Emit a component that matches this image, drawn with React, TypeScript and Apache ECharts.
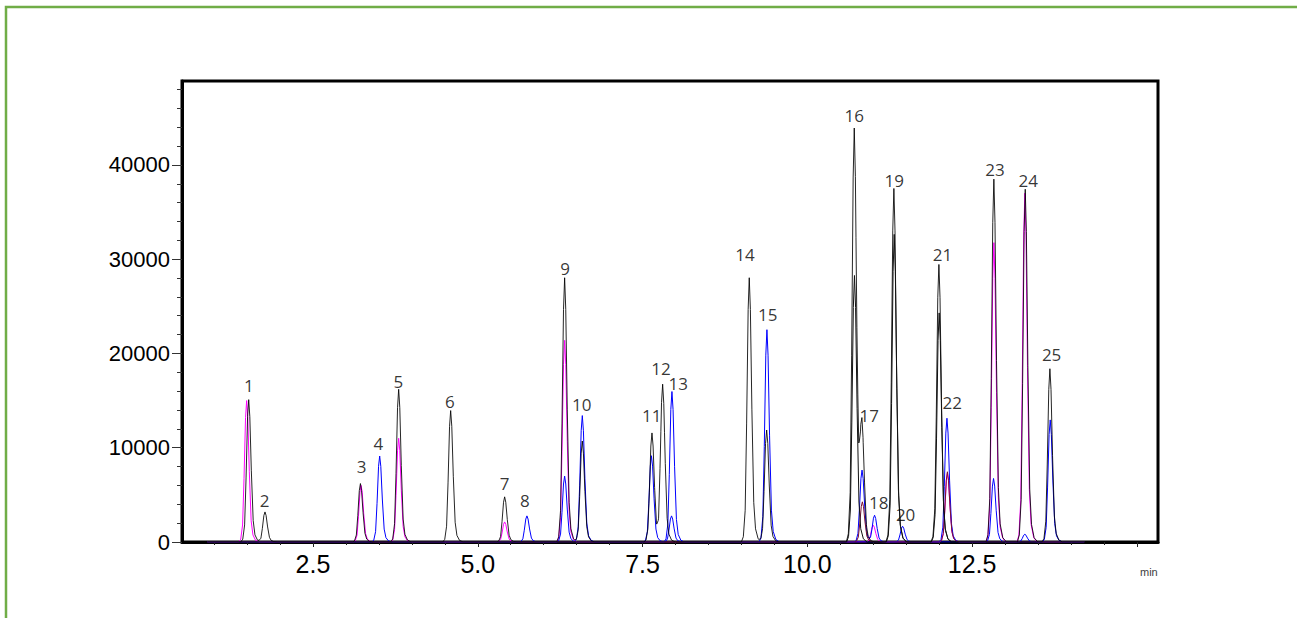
import React, { useEffect, useRef } from "react";
import * as echarts from "echarts";

// axis extents (minutes / counts)
const X_MIN = 0.513;
const X_MAX = 15.32;
const Y_MAX = 48900;
const TRACE_START = 0.9;
const TRACE_END = 14.2;

const xLabelValues = [2.5, 5, 7.5, 10, 12.5];
const xMajorTicks = [2.5, 5, 7.5, 10, 12.5, 15];
const xMinorTicks = [1, 1.5, 2, 3, 3.5, 4, 4.5, 5.5, 6, 6.5, 7, 8, 8.5, 9, 9.5, 10.5, 11, 11.5, 12, 13, 13.5, 14, 14.5];
const yLabelValues = [0, 10000, 20000, 30000, 40000];
const yMinorTicks = [2000, 4000, 6000, 8000, 12000, 14000, 16000, 18000, 22000, 24000, 26000, 28000, 32000, 34000, 36000, 38000, 42000, 44000, 46000, 48000];

// peaks per trace: [retention time (min), height]
const blackPeaks: [number, number][] = [
  [1.525, 15100], [1.772, 3190], [3.22, 6200], [3.8, 16200], [4.589, 13940],
  [5.408, 4790], [6.318, 28030], [6.586, 10710], [7.643, 11570], [7.805, 16670],
  [9.119, 28030], [9.383, 11880], [10.712, 43880], [10.828, 11880], [11.313, 37500],
  [11.996, 29440], [12.83, 38490], [13.306, 37420], [13.68, 18380],
];
const darkPeaks: [number, number][] = [
  [10.715, 28270], [11.318, 32630], [12.0, 24300],
];
const magentaPeaks: [number, number][] = [
  [1.494, 15000], [3.23, 6000], [3.8, 11000], [5.408, 2130], [6.318, 21390],
  [11.0, 1780], [12.125, 7300], [12.83, 31750], [13.3, 37000],
];
const bluePeaks: [number, number][] = [
  [3.512, 9120], [5.746, 2770], [6.318, 6990], [6.586, 13410], [7.635, 9150],
  [7.946, 15960], [9.387, 22520], [10.83, 7630], [11.02, 2840], [11.445, 1670],
  [12.118, 13130], [12.825, 6740], [13.685, 12950],
];
const blue2Peaks: [number, number][] = [
  [7.94, 2770], [13.3, 820],
];
const darkRedPeaks: [number, number][] = [
  [10.835, 4260], [12.125, 7450],
];

// peak labels
const labelNames = ["1", "2", "3", "4", "5", "6", "7", "8", "9", "10", "11", "12", "13", "14", "15", "16", "17", "18", "19", "20", "21", "22", "23", "24", "25"];
const labelTimes = [1.529, 1.767, 3.239, 3.491, 3.794, 4.578, 5.408, 5.716, 6.327, 6.576, 7.638, 7.779, 8.042, 9.053, 9.398, 10.711, 10.939, 11.082, 11.318, 11.491, 12.052, 12.198, 12.846, 13.351, 13.706];
const labelValues = [16570, 4437, 7980, 10470, 17020, 14900, 6210, 4437, 28980, 14545, 13375, 18450, 16780, 30505, 24120, 45220, 13375, 4192, 38380, 2915, 30505, 14830, 39550, 38300, 19865];

// peak shape template (offset in min, fraction of height)
const peakProfile: [number, number][] = [
  [-0.12, 0], [-0.09, 0.02], [-0.062, 0.12], [-0.04, 0.45], [-0.017, 0.88], [0, 1],
  [0.017, 0.88], [0.04, 0.5], [0.068, 0.15], [0.095, 0.05], [0.135, 0.012], [0.19, 0],
];

function profileAt(dt: number): number {
  if (dt <= peakProfile[0][0] || dt >= peakProfile[peakProfile.length - 1][0]) return 0;
  for (let i = 1; i < peakProfile.length; i++) {
    const [x1, y1] = peakProfile[i];
    const [x0, y0] = peakProfile[i - 1];
    if (dt <= x1) return y0 + ((y1 - y0) * (dt - x0)) / (x1 - x0);
  }
  return 0;
}

function buildTrace(peaks: [number, number][]): [number, number][] {
  const times: number[] = [TRACE_START, TRACE_END];
  peaks.forEach(([rt]) => peakProfile.forEach(([dt]) => times.push(+(rt + dt).toFixed(4))));
  const uniq = Array.from(new Set(times)).sort((a, b) => a - b);
  return uniq.map((t) => {
    let v = 0;
    peaks.forEach(([rt, h]) => { v += h * profileAt(t - rt); });
    return [t, v];
  });
}

export default function App() {
  const ref = useRef<HTMLDivElement>(null);
  useEffect(() => {
    if (!ref.current) return;
    const chart = echarts.init(ref.current, undefined, { renderer: "svg" });
    const traceSeries = (name: string, peaks: [number, number][], color: string, opacity = 1) => ({
      name,
      type: "line",
      xAxisIndex: 0,
      yAxisIndex: 0,
      data: buildTrace(peaks),
      showSymbol: false,
      symbol: "none",
      silent: true,
      lineStyle: { color, width: 1, opacity },
      itemStyle: { color },
    });
    chart.setOption({
      animation: false,
      grid: {
        left: 182, right: 139, top: 81, bottom: 76,
        show: true, borderColor: "#000", borderWidth: 3, backgroundColor: "transparent",
      },
      xAxis: [
        {
          type: "value", min: X_MIN, max: X_MAX, position: "bottom",
          axisLine: { show: true, lineStyle: { color: "#000", width: 3 } },
          axisTick: { show: true, customValues: xMajorTicks, length: 5, lineStyle: { color: "#222", width: 1 } },
          axisLabel: {
            customValues: xLabelValues, color: "#000", fontSize: 25,
            fontFamily: "Liberation Sans, Arial, sans-serif", margin: 9,
            formatter: (v: number) => v.toFixed(1),
          },
          splitLine: { show: false },
        },
        {
          type: "value", min: X_MIN, max: X_MAX, position: "bottom",
          axisLine: { show: false },
          axisTick: { show: true, customValues: xMinorTicks, length: 3, lineStyle: { color: "#222", width: 1 } },
          axisLabel: { show: false },
          splitLine: { show: false },
        },
      ],
      yAxis: [
        {
          type: "value", min: 0, max: Y_MAX, position: "left",
          axisLine: { show: true, lineStyle: { color: "#000", width: 3 } },
          axisTick: { show: true, customValues: yLabelValues, length: 10, lineStyle: { color: "#333", width: 1 } },
          axisLabel: {
            customValues: yLabelValues, color: "#000", fontSize: 22,
            fontFamily: "Liberation Sans, Arial, sans-serif", margin: 12,
            formatter: (v: number) => String(Math.round(v)),
          },
          splitLine: { show: false },
        },
        {
          type: "value", min: 0, max: Y_MAX, position: "left",
          axisLine: { show: false },
          axisTick: { show: true, customValues: yMinorTicks, length: 5, lineStyle: { color: "#333", width: 1 } },
          axisLabel: { show: false },
          splitLine: { show: false },
        },
      ],
      series: [
        traceSeries("magenta", magentaPeaks, "#ff00ff"),
        traceSeries("blue2", blue2Peaks, "#0000ff"),
        traceSeries("blue", bluePeaks, "#0000ff"),
        traceSeries("darkred", darkRedPeaks, "#7a1030"),
        traceSeries("black", blackPeaks, "#000000", 0.85),
        traceSeries("dark", darkPeaks, "#111111"),
        {
          name: "labels",
          type: "scatter",
          xAxisIndex: 0,
          yAxisIndex: 0,
          symbol: "circle",
          symbolSize: 0,
          silent: true,
          z: 10,
          data: labelNames.map((n, i) => ({ name: n, value: [labelTimes[i], labelValues[i]] })),
          label: {
            show: true, position: "inside", formatter: "{b}", color: "#000",
            fontSize: 17, fontFamily: "Open Sans, DejaVu Sans, sans-serif",
          },
        },
      ],
      graphic: [
        {
          type: "rect", silent: true,
          shape: { x: 6, y: 7, width: 2000, height: 2000 },
          style: { fill: "none", stroke: "#70ad47", lineWidth: 2.5 },
        },
        {
          type: "text", silent: true, x: 1140, y: 572,
          style: {
            text: "min", fontSize: 11, fill: "#404040",
            fontFamily: "Liberation Sans, Arial, sans-serif", verticalAlign: "middle", align: "left",
          },
        },
      ],
    });
    return () => chart.dispose();
  }, []);
  return (
    <div
      ref={ref}
      style={{ position: "fixed", left: 0, top: 0, width: 1297, height: 618, background: "#fff" }}
    />
  );
}
